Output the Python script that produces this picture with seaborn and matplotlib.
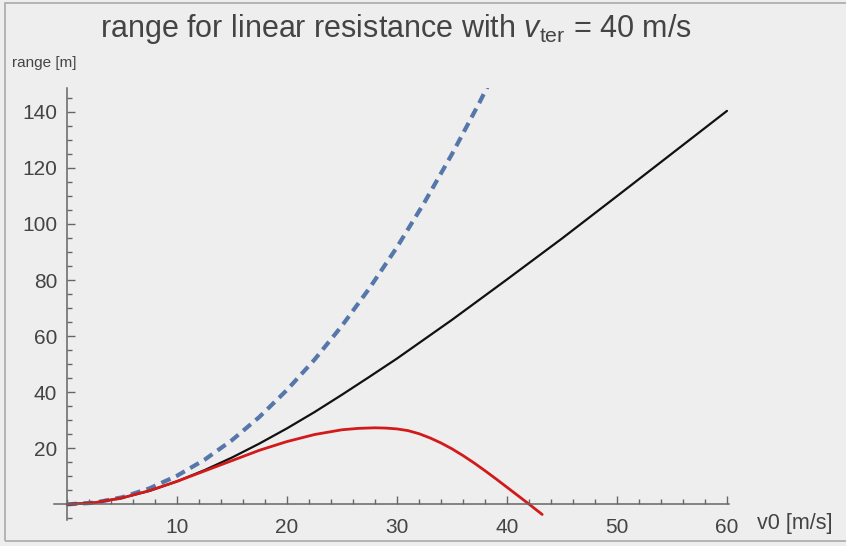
import matplotlib
matplotlib.use("Agg")
import matplotlib.pyplot as plt
from matplotlib.patches import Rectangle
from matplotlib.ticker import MultipleLocator, FixedLocator
import seaborn as sns

# range without air resistance (dashed)
v_vac = [0, 2.5, 5, 7.5, 10, 12.5, 15, 17.5, 20, 22.5, 25, 27.5, 30, 32.5, 35, 37.5, 38.3]
r_vac = [0, 0.6, 2.5, 5.7, 10.2, 15.9, 22.9, 31.2, 40.8, 51.6, 63.7, 77.1, 91.7, 107.7, 124.9, 143.3, 149.5]

# exact range with linear resistance (black)
v_lin = [0, 2.5, 5, 7.5, 10, 12.5, 15, 17.5, 20, 22.5, 25, 27.5, 30, 35, 40, 45, 50, 55, 60]
r_lin = [0, 0.6, 2.3, 4.8, 8.2, 12.2, 16.7, 21.7, 27.1, 32.9, 39.1, 45.5, 52.0, 65.8, 80.2, 94.8, 109.9, 125.1, 140.3]

# approximation (red)
v_apx = [0, 2.5, 5, 7.5, 10, 12.5, 15, 17.5, 20, 22.5, 25, 26.5, 28, 29, 30, 31, 32, 33, 34, 35,
         36, 37, 38, 39, 40, 41, 42, 43.2]
r_apx = [0, 0.6, 2.3, 4.9, 8.2, 11.9, 15.6, 19.3, 22.4, 24.9, 26.6, 27.1, 27.3, 27.2, 26.9, 26.3,
         25.2, 23.7, 21.9, 19.8, 17.4, 14.8, 12.0, 9.1, 6.1, 3.1, 0.1, -3.6]

x_major = [10, 20, 30, 40, 50, 60]
y_major = [20, 40, 60, 80, 100, 120, 140]

bg = "#eeeeee"
axis_col = "#666666"
txt_col = "#444444"

sns.set_theme(style="white")
plt.rcParams['font.family'] = ['Liberation Sans', 'DejaVu Sans']
plt.rcParams['mathtext.fontset'] = 'custom'
plt.rcParams['mathtext.rm'] = 'Liberation Sans'
plt.rcParams['mathtext.it'] = 'Liberation Sans:italic'

fig = plt.figure(figsize=(8.46, 5.46), dpi=100, facecolor=bg)
ax = fig.add_axes([0.0636, 0.048, 0.7983, 0.791])
ax.set_facecolor(bg)

sns.lineplot(x=v_vac, y=r_vac, ax=ax, color="#5577aa", linewidth=3.0, sort=False, estimator=None)
ax.lines[-1].set_linestyle((0, (2.4, 1.5)))
sns.lineplot(x=v_lin, y=r_lin, ax=ax, color="#111111", linewidth=1.6, sort=False, estimator=None)
sns.lineplot(x=v_apx, y=r_apx, ax=ax, color="#d21a1a", linewidth=2.0, sort=False, estimator=None)

ax.set_xlim(-1.2, 60.2)
ax.set_ylim(-5.5, 148.5)

for side in ["top", "right"]:
    ax.spines[side].set_visible(False)
for side in ["left", "bottom"]:
    ax.spines[side].set_position(("data", 0))
    ax.spines[side].set_color(axis_col)
    ax.spines[side].set_linewidth(1.1)

ax.xaxis.set_major_locator(FixedLocator(x_major))
ax.xaxis.set_minor_locator(MultipleLocator(2))
ax.yaxis.set_major_locator(FixedLocator(y_major))
ax.yaxis.set_minor_locator(MultipleLocator(5))
ax.tick_params(which="both", direction="in", color=axis_col, width=1.0,
               labelcolor=txt_col, labelsize=15)
ax.tick_params(which="major", length=6)
ax.tick_params(which="minor", length=3.5)
ax.tick_params(axis="x", which="both", bottom=True, pad=10)
ax.tick_params(axis="y", which="both", left=True, pad=7)
ax.set_xlabel("")
ax.set_ylabel("")

fig.text(396 / 846, 1 - 29 / 546,
         r"range for linear resistance with $v_{\rm ter}$ = 40 m/s",
         ha="center", va="center", fontsize=22, color=txt_col)
fig.text(12 / 846, 1 - 63 / 546, "range [m]", ha="left", va="center",
         fontsize=11, color=txt_col)
fig.text(757 / 846, 1 - 524 / 546, "v0 [m/s]", ha="left", va="center",
         fontsize=15.5, color=txt_col)

fig.patches.append(Rectangle((5 / 846, 5 / 546), 1.0, 1 - 8 / 546, transform=fig.transFigure,
                             fill=False, edgecolor="#aaaaaa", linewidth=1.2))

plt.savefig("out.png", dpi=100, facecolor=bg)
plt.close("all")
